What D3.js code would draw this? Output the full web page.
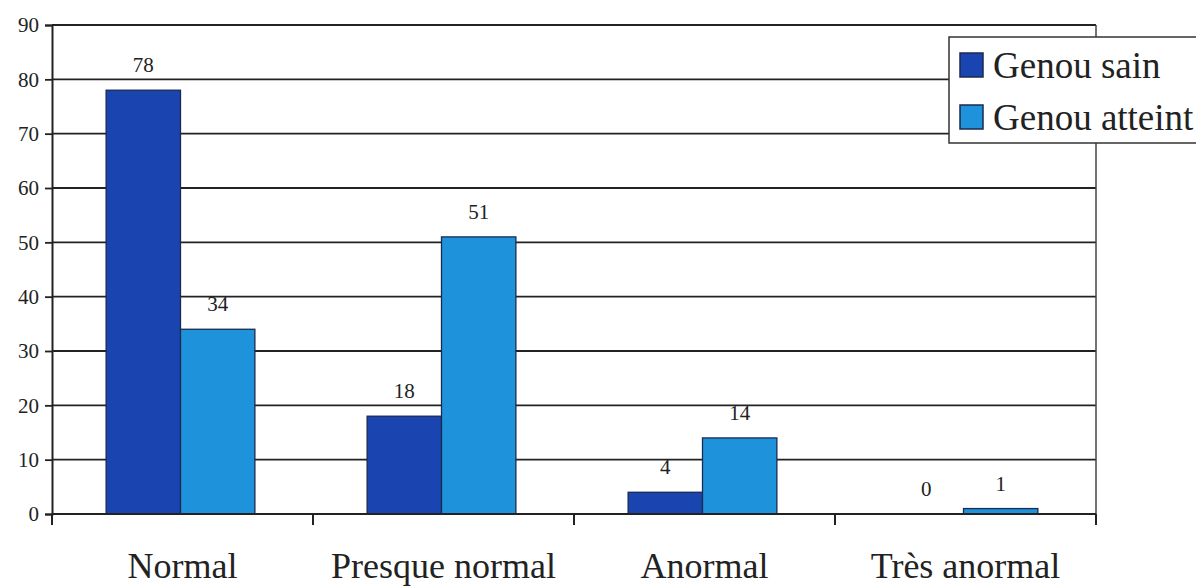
<!DOCTYPE html>
<html>
<head>
<meta charset="utf-8">
<script src="https://cdn.jsdelivr.net/npm/d3@7"></script>
<style>
  body { margin: 0; background: #fff; overflow: hidden; }
  text { font-family: "Liberation Serif", "DejaVu Serif", serif; fill: #222; }
</style>
</head>
<body>
<svg id="chart" width="1196" height="587"></svg>
<script>
// data
var categories = ["Normal", "Presque normal", "Anormal", "Très anormal"];
var seriesNames = ["Genou sain", "Genou atteint"];
var sainValues = [78, 18, 4, 0];
var atteintValues = [34, 51, 14, 1];
var yTicks = [0, 10, 20, 30, 40, 50, 60, 70, 80, 90];

var colors = { "Genou sain": "#1a45b0", "Genou atteint": "#1e93dc" };

var svg = d3.select("#chart");
// note: "top" is taken by window.top, so use plot* names
var plotLeft = 52, plotRight = 1096, plotTop = 25, plotBottom = 514;

var x0 = d3.scaleBand().domain(categories).range([plotLeft, plotRight])
  .paddingInner(0.43).paddingOuter(0.215);
var x1 = d3.scaleBand().domain(seriesNames).range([0, x0.bandwidth()]);
var y = d3.scaleLinear().domain([0, 90]).range([plotBottom, plotTop]);

var rows = categories.map(function (c, i) {
  return { cat: c, vals: [
    { name: "Genou sain", v: sainValues[i] },
    { name: "Genou atteint", v: atteintValues[i] }
  ] };
});

// gridlines
svg.append("g").selectAll("line")
  .data(yTicks).enter().append("line")
  .attr("x1", plotLeft).attr("x2", plotRight)
  .attr("y1", function (d) { return y(d); })
  .attr("y2", function (d) { return y(d); })
  .attr("stroke", "#222").attr("stroke-width", 1.8);

// right border
svg.append("line")
  .attr("x1", plotRight).attr("x2", plotRight)
  .attr("y1", plotTop).attr("y2", plotBottom)
  .attr("stroke", "#444").attr("stroke-width", 1.5);

// bars
var groups = svg.append("g").selectAll("g")
  .data(rows).enter().append("g")
  .attr("transform", function (d) { return "translate(" + (x0(d.cat) - 2) + ",0)"; });

groups.selectAll("rect")
  .data(function (d) { return d.vals; }).enter().append("rect")
  .attr("x", function (d) { return x1(d.name); })
  .attr("y", function (d) { return y(d.v); })
  .attr("width", x1.bandwidth())
  .attr("height", function (d) { return plotBottom - y(d.v); })
  .attr("fill", function (d) { return colors[d.name]; })
  .attr("stroke", function (d) { return d.v > 0 ? "#1a2a50" : "none"; })
  .attr("stroke-width", 1.3);

groups.selectAll("text")
  .data(function (d) { return d.vals; }).enter().append("text")
  .attr("x", function (d) { return x1(d.name) + x1.bandwidth() / 2; })
  .attr("y", function (d) { return y(d.v) - 18; })
  .attr("text-anchor", "middle")
  .attr("font-size", 21)
  .text(function (d) { return d.v; });

// y axis
var yAxis = d3.axisLeft(y).tickValues(yTicks).tickSize(7).tickPadding(6);
var ya = svg.append("g").attr("transform", "translate(" + plotLeft + ",0)").call(yAxis);
ya.select(".domain").attr("stroke", "#222").attr("stroke-width", 2);
ya.selectAll(".tick line").attr("stroke", "#222").attr("stroke-width", 1.8);
ya.selectAll("text").attr("font-size", 21).attr("fill", "#333")
  .style("font-family", "'Liberation Serif', serif");

// x axis: ticks between categories
var xa = svg.append("g").attr("transform", "translate(0," + plotBottom + ")");
xa.append("line").attr("x1", plotLeft).attr("x2", plotRight)
  .attr("stroke", "#222").attr("stroke-width", 2);
var bounds = d3.range(categories.length + 1).map(function (i) {
  return plotLeft + i * x0.step();
});
xa.selectAll(".xt").data(bounds).enter().append("line")
  .attr("x1", function (d) { return d; }).attr("x2", function (d) { return d; })
  .attr("y1", 0).attr("y2", 11)
  .attr("stroke", "#222").attr("stroke-width", 2);
xa.selectAll(".xl").data(categories).enter().append("text")
  .attr("x", function (d) { return x0(d) + x0.bandwidth() / 2; })
  .attr("y", 64)
  .attr("text-anchor", "middle")
  .attr("font-size", 36)
  .text(function (d) { return d; });

// legend (runs off the right edge as in the original)
var lg = svg.append("g").attr("transform", "translate(949,37)");
lg.append("rect").attr("width", 262).attr("height", 106)
  .attr("fill", "#fff").attr("stroke", "#333").attr("stroke-width", 1.5);
lg.selectAll(".sw").data(seriesNames).enter().append("rect")
  .attr("x", 11).attr("y", function (d, i) { return 16 + i * 52; })
  .attr("width", 23).attr("height", 24)
  .attr("fill", function (d) { return colors[d]; })
  .attr("stroke", "#1a2a50").attr("stroke-width", 1.5);
lg.selectAll(".lt").data(seriesNames).enter().append("text")
  .attr("x", 44).attr("y", function (d, i) { return 41 + i * 52; })
  .attr("font-size", 37)
  .text(function (d) { return d; });
</script>
</body>
</html>
